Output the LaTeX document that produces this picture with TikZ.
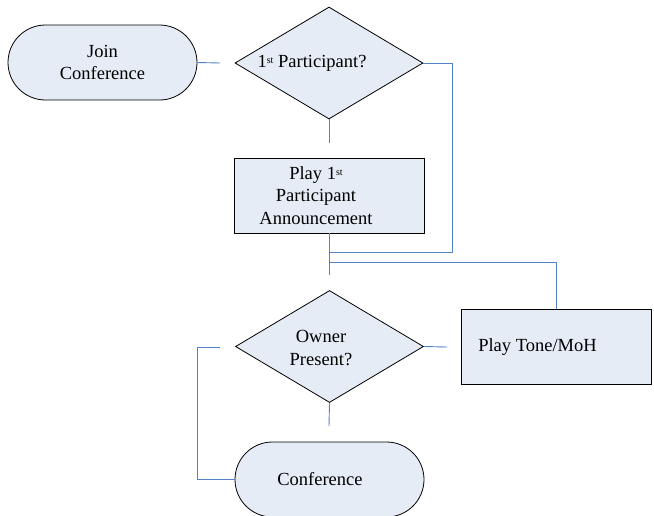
\documentclass[tikz,border=0pt]{standalone}
\usepackage{fontspec}
\setmainfont{Liberation Serif}
\newfontfamily\tms{Liberation Serif}
\usetikzlibrary{shapes.geometric,shapes.misc}
\definecolor{fillc}{HTML}{E6ECF6}
\definecolor{linec}{HTML}{5283C8}
\newcommand{\stsup}{\raisebox{3.5pt}{\fontsize{10}{10}\selectfont st}}
\begin{document}
\begin{tikzpicture}[x=1pt,y=-1pt,
  term/.style={rounded rectangle, draw=black, fill=fillc, line width=0.8pt, minimum width=189pt, minimum height=75pt, inner sep=0pt},
  dec/.style={diamond, draw=black, fill=fillc, line width=0.8pt, minimum width=188pt, minimum height=112pt, inner sep=0pt},
  proc/.style={rectangle, draw=black, fill=fillc, line width=0.8pt, minimum width=190pt, minimum height=75pt, inner sep=0pt},
  lbl/.style={font=\tms\fontsize{18.5}{22.5}\selectfont, align=center, inner sep=0pt},
  conn/.style={draw=linec, line width=0.9pt}]
\useasboundingbox (0,0) rectangle (654,515);
\fill[white] (0,0) rectangle (654,515);
\begin{scope}
\clip (0,0) rectangle (654,515);
% shapes
\node[term] (join) at (102.5,62.5) {};
\node[lbl] (tjoin) at (102.5,62.5) {Join\\Conference};
\node[dec] (d1) at (329,63) {};
\node[lbl] (td1) at (312,63) {1\stsup{} Participant?};
\node[proc] (p1) at (329,195.5) {};
\node[lbl] (tp1) at (316,195.5) {Play 1\stsup\\Participant\\Announcement};
\node[dec] (d2) at (329.5,346.5) {};
\node[lbl] (td2) at (321,348) {Owner\\Present?};
\node[proc] (tone) at (556.5,346.5) {};
\node[lbl] (ttone) at (537.5,347) {Play Tone/MoH};
\node[term] (conf) at (329.5,479.5) {};
\node[lbl] (tconf) at (320,479) {Conference};
% connector coordinates
\coordinate (c1) at (220,63);
\coordinate (c2) at (329,143);
\coordinate (r1) at (452,0);
\coordinate (c3) at (329,252);
\coordinate (c4) at (329,275);
\coordinate (c5) at (329,262);
\coordinate (c6) at (447,347);
\coordinate (c7) at (220,347);
\coordinate (l1) at (197,0);
\coordinate (c8) at (329,426);
% connectors
\draw[conn] (join.east) -- (c1);
\draw[conn] (d1.south) -- (c2);
\draw[conn] (d1.east) -| (r1 |- c3) -- (c3);
\draw[conn] (p1.south) -- (c4);
\draw[conn] (c5) -| (tone.north);
\draw[conn] (d2.east) -- (c6);
\draw[conn] (c7) -- (l1 |- c7) |- (conf.west);
\draw[conn] (d2.south) -- (c8);
\end{scope}
\end{tikzpicture}
\end{document}
